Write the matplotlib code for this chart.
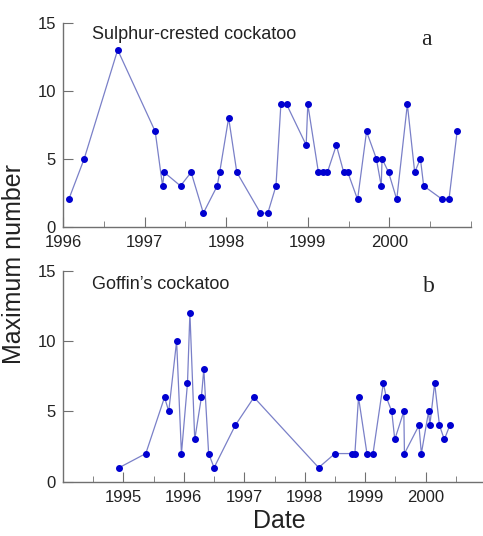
import matplotlib
matplotlib.use("Agg")
import matplotlib.pyplot as plt
from matplotlib.ticker import MultipleLocator

plt.rcParams["font.family"] = ["Liberation Sans", "DejaVu Sans"]

# panel a: Sulphur-crested cockatoo (decimal year, max number)
sc_dates = [1996.07, 1996.26, 1996.67, 1997.13, 1997.22, 1997.24, 1997.44, 1997.57,
            1997.72, 1997.89, 1997.92, 1998.03, 1998.13, 1998.42, 1998.51, 1998.61,
            1998.67, 1998.74, 1998.98, 1999.00, 1999.13, 1999.19, 1999.24, 1999.35,
            1999.44, 1999.49, 1999.61, 1999.72, 1999.84, 1999.90, 1999.91, 1999.99,
            2000.09, 2000.22, 2000.31, 2000.38, 2000.42, 2000.65, 2000.73, 2000.83]
sc_counts = [2, 5, 13, 7, 3, 4, 3, 4,
             1, 3, 4, 8, 4, 1, 1, 3,
             9, 9, 6, 9, 4, 4, 4, 6,
             4, 4, 2, 7, 5, 3, 5, 4,
             2, 9, 4, 5, 3, 2, 2, 7]

# panel b: Goffin's cockatoo
gc_dates = [1994.93, 1995.37, 1995.68, 1995.75, 1995.88, 1995.96, 1996.06, 1996.10,
            1996.18, 1996.29, 1996.33, 1996.41, 1996.50, 1996.85, 1997.16, 1998.23,
            1998.50, 1998.78, 1998.83, 1998.89, 1999.03, 1999.13, 1999.30, 1999.35,
            1999.44, 1999.49, 1999.64, 1999.65, 1999.89, 1999.93, 2000.05, 2000.07,
            2000.15, 2000.23, 2000.31, 2000.40]
gc_counts = [1, 2, 6, 5, 10, 2, 7, 12,
             3, 6, 8, 2, 1, 4, 6, 1,
             2, 2, 2, 6, 2, 2, 7, 6,
             5, 3, 5, 2, 4, 2, 5, 4,
             7, 4, 3, 4]

W, H = 483, 536
fig = plt.figure(figsize=(W / 100, H / 100), dpi=100)

line_col = "#7a80c8"
dot_col = "#0000d0"
axis_col = "#707070"
text_col = "#222222"


def make_axes(left, top, right, bottom):
    return fig.add_axes([left / W, 1 - bottom / H, (right - left) / W, (bottom - top) / H])


def style(ax, xlim, years):
    ax.set_xlim(*xlim)
    ax.set_ylim(0, 15)
    ax.set_xticks(years)
    ax.set_xticklabels([str(y) for y in years])
    ax.xaxis.set_minor_locator(MultipleLocator(0.5))
    ax.set_yticks([0, 5, 10, 15])
    for s in ["top", "right"]:
        ax.spines[s].set_visible(False)
    for s in ["left", "bottom"]:
        ax.spines[s].set_color(axis_col)
        ax.spines[s].set_linewidth(1.0)
    ax.tick_params(axis="both", which="both", direction="in", colors=axis_col,
                   labelcolor=text_col, labelsize=12)
    ax.tick_params(axis="x", which="major", length=7, pad=6)
    ax.tick_params(axis="x", which="minor", length=4)
    ax.tick_params(axis="y", which="major", length=7, pad=5)
    ax.patch.set_alpha(0)


ax1 = make_axes(63, 22.7, 471, 226.7)
ax1.plot(sc_dates, sc_counts, color=line_col, lw=0.9, marker="o", ms=4,
         mfc=dot_col, mec=dot_col, clip_on=False)
style(ax1, (1996, 2001), [1996, 1997, 1998, 1999, 2000])
ax1.text(0.07, 0.94, "Sulphur-crested cockatoo", transform=ax1.transAxes,
         fontsize=13, va="center", ha="left", color=text_col)
ax1.text(0.89, 0.92, "a", transform=ax1.transAxes, fontsize=17,
         family="Liberation Serif", va="center", ha="center", color=text_col)

ax2 = make_axes(63, 270.7, 483, 481.7)
ax2.plot(gc_dates, gc_counts, color=line_col, lw=0.9, marker="o", ms=4,
         mfc=dot_col, mec=dot_col, clip_on=False)
style(ax2, (1994, 2000.95), [1995, 1996, 1997, 1998, 1999, 2000])
ax2.text(0.07, 0.935, "Goffin\u2019s cockatoo", transform=ax2.transAxes,
         fontsize=13, va="center", ha="left", color=text_col)
ax2.text(0.87, 0.925, "b", transform=ax2.transAxes, fontsize=17,
         family="Liberation Serif", va="center", ha="center", color=text_col)

fig.text(14 / W, 1 - 264 / H, "Maximum number", rotation=90, fontsize=18,
         va="center", ha="center", color=text_col)
fig.text(279 / W, 1 - 521 / H, "Date", fontsize=18, va="center", ha="center",
         color=text_col)

fig.savefig("out.png", dpi=100, facecolor="white")
